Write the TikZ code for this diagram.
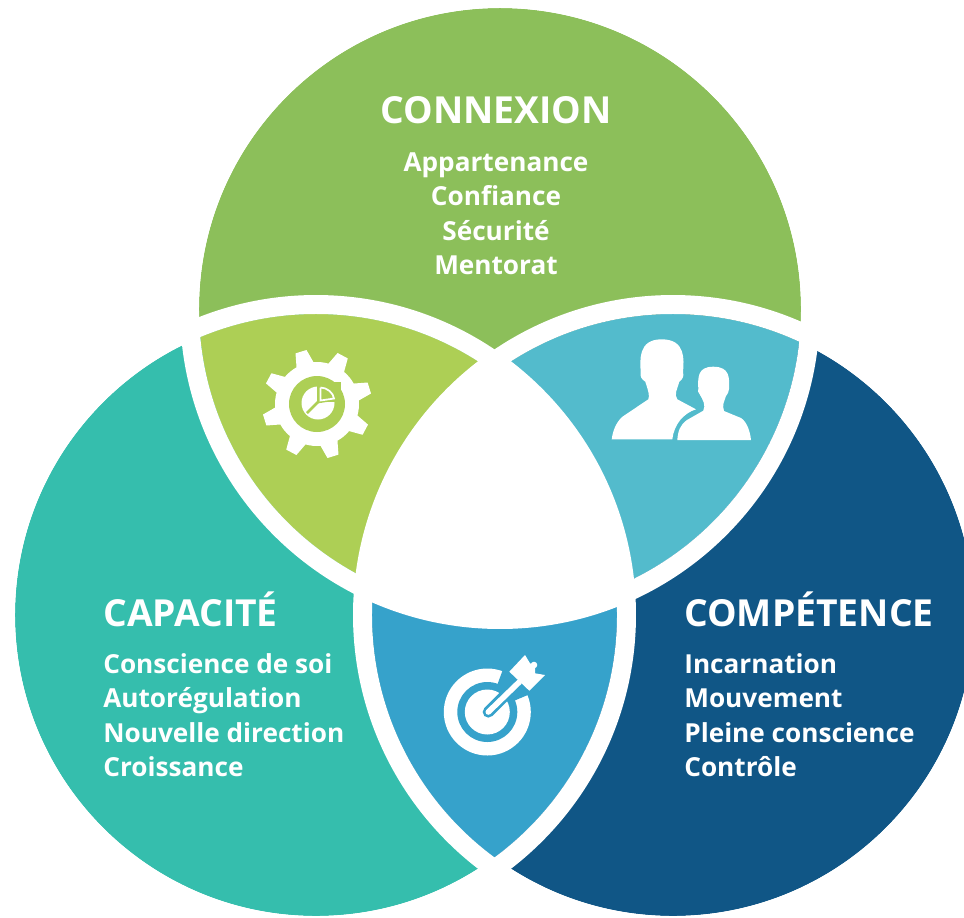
\documentclass[tikz,border=0pt]{standalone}
\usepackage{fontspec}
\setmainfont{Open Sans}
\definecolor{topgreen}{HTML}{8CBF5A}
\definecolor{limegreen}{HTML}{ADCF55}
\definecolor{skyteal}{HTML}{53BBCC}
\definecolor{leftteal}{HTML}{35BEAD}
\definecolor{navyblue}{HTML}{105686}
\definecolor{midblue}{HTML}{36A2CB}
\tikzset{
  titletext/.style={text=white, inner sep=0pt, font=\bfseries\fontsize{21.2}{26}\selectfont},
  itemtext/.style={text=white, inner sep=0pt, font=\bfseries\fontsize{14.9}{19}\selectfont},
  band/.style={draw=white, line width=10.8pt}
}
\begin{document}
\begin{tikzpicture}[x=0.02cm,y=-0.02cm]
  \clip (0,0) rectangle (964,917);
  \coordinate (top) at (500,309);
  \coordinate (left) at (316,615);
  \coordinate (right) at (673,615);

  % circles and their overlaps
  \fill[topgreen] (top) circle (301);
  \fill[leftteal] (left) circle (301);
  \fill[navyblue] (right) circle (301);
  \begin{scope}
    \clip (top) circle (301);
    \fill[limegreen] (left) circle (301);
    \fill[skyteal] (right) circle (301);
  \end{scope}
  \begin{scope}
    \clip (left) circle (301);
    \fill[midblue] (right) circle (301);
  \end{scope}
  \begin{scope}
    \clip (left) circle (310);
    \clip (right) circle (310);
    \fill[white] (top) circle (310);
  \end{scope}
  \draw[band] (top) circle (310.5);
  \draw[band] (left) circle (310.5);
  \draw[band] (right) circle (310.5);

  % gear
  \begin{scope}[shift={(317,404)}]
    \fill[white] (0,0) circle (42);
    \foreach \a in {-107,-62,-17,28,73,118,163,208}
      \fill[white] (\a-15:38) -- (\a-6:55) -- (\a+6:55) -- (\a+15:38) -- cycle;
    \fill[limegreen] (0,0) circle (28);
    \fill[white] (1,-1) circle (16.5);
    \fill[limegreen] (2,-2) -- (2,-22) -- (24,-22) -- (24,-2) -- cycle;
    \draw[limegreen, line width=1.5pt] (1,-2) -- (1,-20);
    \draw[limegreen, line width=1.5pt] (1,-2) -- (-10,9);
    \draw[limegreen, line width=1.5pt] (1,-2) -- (20,-5);
    \draw[white, line width=1pt] (3.5,-16.5) -- (3.5,-3.5) -- (17,-5.5)
      .. controls (16.5,-11) and (10,-16.5) .. (3.5,-16.5);
  \end{scope}

  % two people
  \fill[white] (611.7,439.3) .. controls (613,430) and (616,423) .. (622,417)
    -- (648.3,399.3) .. controls (650,396) and (648,390) .. (645.3,381.7)
    .. controls (641,379) and (640,376) .. (640.7,372)
    .. controls (640,360) and (638,339.3) .. (661.7,339.3)
    .. controls (686,339.3) and (684,360) .. (683,372)
    .. controls (684,376) and (683,379) .. (679.3,381.7)
    .. controls (677,390) and (674,394) .. (677.3,399.3)
    -- (696,409.3) .. controls (684,413) and (674,424) .. (672.3,439.3) -- cycle;
  \fill[white] (677.3,440) .. controls (678,431) and (680,425) .. (687,420)
    -- (703.3,410.7) .. controls (706,405) and (703,400) .. (699.5,394)
    .. controls (698,392) and (697.5,391) .. (698.3,389)
    .. controls (698,378) and (697,366.7) .. (713.3,366.7)
    .. controls (730,366.7) and (729.5,378) .. (729,389)
    .. controls (729.5,392) and (727,394) .. (726,396)
    .. controls (724,402) and (722,405) .. (724,411)
    -- (741,418) .. controls (747,422) and (750,431) .. (751,440) -- cycle;

  % target
  \begin{scope}[shift={(487.3,712)}]
    \fill[white] (0,0) circle (43.5);
    \fill[midblue] (0,0) circle (30);
    \fill[midblue] (0,0) -- (50,-21) -- (18,-49) -- cycle;
    \fill[white] (0,0) circle (22.5);
    \draw[midblue, line width=6.4pt, line cap=round] (1,0) -- (28,-27);
    \draw[white, line width=3.2pt, line cap=round] (1,0) -- (32,-30);
    \fill[white] (22,-40.3) -- (37.7,-57) -- (42.7,-48.7) -- (47.7,-47) -- (47.7,-38.7)
      -- (57.7,-37) -- (42,-21.3) -- cycle;
    \fill[white] (46.7,-47) circle (3.3);
  \end{scope}

  % texts
  \node[titletext, anchor=base] (conTitle) at (496,123) {CONNEXION};
  \foreach \i/\txt in {0/Appartenance,1/Confiance,2/Sécurité,3/Mentorat}
    \node[itemtext, anchor=base] (con\i) at (496,{171+34.6*\i}) {\txt};
  \node[titletext, anchor=base west] (capTitle) at (103,626) {CAPACITÉ};
  \foreach \i/\txt in {0/Conscience de soi,1/Autorégulation,2/Nouvelle direction,3/Croissance}
    \node[itemtext, anchor=base west] (cap\i) at (103,{673+34.6*\i}) {\txt};
  \node[titletext, anchor=base west] (comTitle) at (684,626) {COMPÉTENCE};
  \foreach \i/\txt in {0/Incarnation,1/Mouvement,2/Pleine conscience,3/Contrôle}
    \node[itemtext, anchor=base west] (com\i) at (684,{673+34.6*\i}) {\txt};
\end{tikzpicture}
\end{document}
